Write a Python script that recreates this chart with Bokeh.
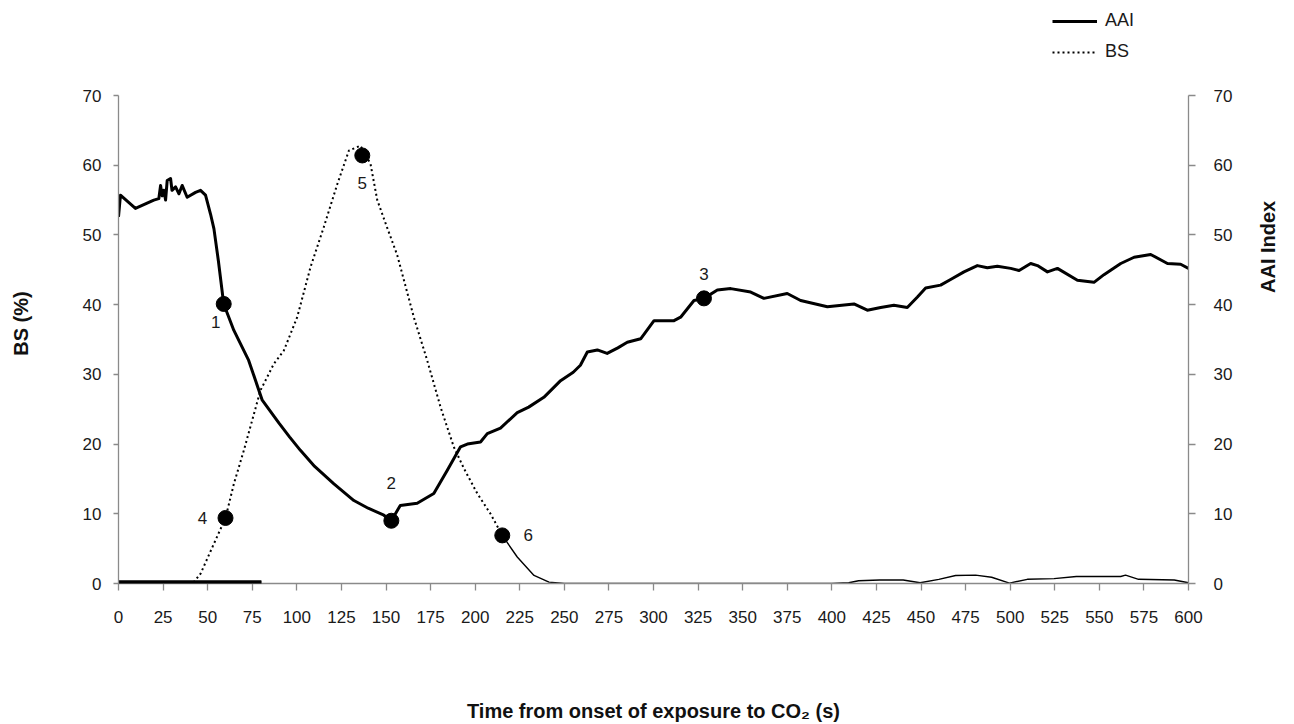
import math
from bokeh.plotting import figure
from bokeh.models import Range1d, LinearAxis, Legend, LegendItem, ColumnDataSource, FixedTicker
from bokeh.core.properties import value
from bokeh.embed import file_html
from bokeh.resources import INLINE

# ---------------- data ----------------
x_ticks = list(range(0, 601, 25))
y_ticks = list(range(0, 71, 10))
y_min, y_max = 0, 70

aai_t = [0, 1.1, 9.5, 19.8, 22.6, 23.6, 24.5, 25.4, 26.4, 27.3, 29.2, 30, 32, 33.9, 35.7, 38.5,
         43.2, 46, 48.8, 51.6, 53.5, 56, 59, 64.7, 73, 80.6, 90, 96, 102, 110, 120.8, 132, 140,
         148.8, 153, 158, 167.5, 176.8, 184.3, 191.8, 195.6, 203, 206.8, 214.2, 223.6, 230, 238.5,
         247.9, 255, 259, 262.9, 268.5, 274, 280, 285.3, 292.8, 300.3, 311.5, 315.2, 322.7, 328.3,
         335.8, 343.3, 354.5, 361.9, 375, 382.5, 397.5, 412.4, 419.9, 427.4, 434.8, 442.3, 448,
         452.6, 461, 466.6, 474.1, 481.6, 487.2, 492.8, 500.3, 505, 511.5, 515.3, 520.9, 526.5,
         537.7, 547, 552.6, 562, 569.5, 578.8, 588.2, 595.6, 600]
aai_v = [52.6, 55.7, 53.8, 55.0, 55.2, 57.1, 55.6, 56.4, 55.0, 57.8, 58.1, 56.4, 56.9, 55.9, 57.1, 55.4,
         56.1, 56.4, 55.7, 53.0, 50.9, 46.3, 40.1, 36.3, 32.0, 26.3, 23.0, 21.0, 19.1, 16.8, 14.3, 11.9, 10.8,
         9.8, 9.0, 11.2, 11.5, 12.9, 16.2, 19.6, 20.0, 20.3, 21.5, 22.3, 24.5, 25.3, 26.7,
         29.1, 30.3, 31.3, 33.2, 33.5, 33.0, 33.8, 34.6, 35.1, 37.7, 37.7, 38.2, 40.6, 40.9,
         42.1, 42.3, 41.8, 40.9, 41.6, 40.6, 39.7, 40.1, 39.2, 39.6, 39.9, 39.6, 41.1,
         42.4, 42.8, 43.6, 44.7, 45.6, 45.3, 45.5, 45.2, 44.9, 45.9, 45.6, 44.7, 45.2,
         43.5, 43.2, 44.3, 45.9, 46.8, 47.2, 45.9, 45.8, 45.2]

bs_t = [0, 42.2, 46, 53.5, 60, 64.7, 70.3, 79.6, 87.1, 92.7, 100.2, 107.7, 115.1, 122.7, 129.2,
        135.7, 141.3, 145.1, 150, 156.3, 165.6, 173.1, 180.6, 188, 193.7, 201.2, 208.6, 215.2,
        223.6, 233, 241.4, 250, 400, 409.5, 415, 426.8, 440, 449.5, 460, 469.4, 480.6, 489.6,
        499.6, 509.6, 524.6, 537.1, 562, 564.7, 572, 592, 600]
bs_v = [0, 0.2, 1.4, 5.7, 9.4, 14.3, 19.1, 27.7, 31.5, 33.4, 38.2, 45.4, 51.1, 57.3, 62.1,
        62.8, 60.2, 55.0, 51.5, 47.1, 38.2, 32.0, 25.3, 19.6, 16.5, 12.9, 10.0, 6.9,
        3.8, 1.15, 0.2, 0, 0, 0.1, 0.4, 0.5, 0.5, 0.1, 0.6, 1.15, 1.2, 0.9,
        0.05, 0.6, 0.7, 1.0, 1.0, 1.2, 0.6, 0.5, 0.1]
bs_dotted_until = 215.2

mark_t = [59, 153, 328.3, 60, 136.7, 215.2]
mark_v = [40.1, 9.0, 40.9, 9.4, 61.4, 6.9]
mark_labels = ["1", "2", "3", "4", "5", "6"]

exposure_start, exposure_end = 0, 80

# ---------------- layout / styling ----------------
FONT = "Liberation Sans"
AXIS_GREY = "#8a8a8a"
TXT = "#1a1a1a"
NBSP = "\u00a0"

W, H = 1294, 724
FRAME_TOP, AXIS_TOP, FRAME_BOTTOM = 2, 95, 583   # pixel rows: frame top, y=70 row, y=0 row
y_range_top = y_max * (FRAME_BOTTOM - FRAME_TOP) / (FRAME_BOTTOM - AXIS_TOP)

p = figure(width=W, height=H, output_backend="svg", toolbar_location=None,
           x_range=Range1d(0, 600), y_range=Range1d(y_min, y_range_top),
           min_border_left=118, min_border_right=106, min_border_top=FRAME_TOP,
           min_border_bottom=H - FRAME_BOTTOM)
p.grid.visible = False
p.outline_line_color = None
p.background_fill_color = "white"
p.border_fill_color = "white"

p.extra_y_ranges = {"aai": Range1d(y_min, y_range_top)}
right_axis = LinearAxis(y_range_name="aai", axis_label="AAI Index" + NBSP * 7)
p.add_layout(right_axis, "right")

p.xaxis.axis_label = "Time from onset of exposure to CO\u2082 (s)"
p.yaxis[0].axis_label = "BS (%)" + NBSP * 11

p.xaxis.ticker = FixedTicker(ticks=x_ticks)
for ax in p.yaxis:
    ax.ticker = FixedTicker(ticks=y_ticks)
    ax.bounds = (y_min, y_max)

for ax in list(p.xaxis) + list(p.yaxis):
    ax.axis_line_color = AXIS_GREY
    ax.axis_line_width = 1.3
    ax.major_tick_line_color = AXIS_GREY
    ax.major_tick_line_width = 1.3
    ax.major_tick_in = 0
    ax.minor_tick_line_color = None
    ax.major_label_text_font = FONT
    ax.major_label_text_font_size = "17px"
    ax.major_label_text_color = TXT
    ax.axis_label_text_font = FONT
    ax.axis_label_text_font_size = "20px"
    ax.axis_label_text_font_style = "bold"
    ax.axis_label_text_color = "#111111"

p.xaxis.major_tick_out = 7
p.xaxis.major_label_standoff = 20
p.xaxis.axis_label_standoff = 74

p.yaxis[0].major_tick_out = 5
p.yaxis[0].major_label_standoff = 12
p.yaxis[0].axis_label_standoff = 48

right_axis.major_tick_out = 7
right_axis.major_label_standoff = 18
right_axis.axis_label_standoff = 33
try:
    right_axis.axis_label_orientation = math.pi / 2   # read bottom-to-top, like the left title
    right_axis.axis_label_text_align = "center"
except Exception as e:
    print("no axis_label_orientation:", e)

# exposure bar along the x axis (axis line restricted to the exposure interval)
bar_axis = LinearAxis(bounds=(exposure_start, exposure_end), fixed_location=0,
                      axis_line_width=6, axis_line_color="black",
                      major_tick_line_color=None, minor_tick_line_color=None,
                      major_label_text_font_size="0px", major_label_text_alpha=0)
p.add_layout(bar_axis, "below")

# ---------------- glyphs ----------------
bs1_t = [t for t in bs_t if t <= bs_dotted_until]
bs1_v = [v for t, v in zip(bs_t, bs_v) if t <= bs_dotted_until]
bs2_t = [t for t in bs_t if t >= bs_dotted_until]
bs2_v = [v for t, v in zip(bs_t, bs_v) if t >= bs_dotted_until]

bs_r = p.line(bs1_t, bs1_v, line_color="black", line_width=2, line_dash="2 3")
p.line(bs2_t, bs2_v, line_color="black", line_width=1.4)

aai_r = p.line(aai_t, aai_v, line_color="black", line_width=3, y_range_name="aai", line_join="round")

p.line([exposure_start, exposure_end], [0, 0], line_color="black", line_width=6)

p.scatter(mark_t, mark_v, size=15, fill_color="black", line_color="black")

lab_src = ColumnDataSource(dict(x=mark_t, y=mark_v, text=mark_labels,
                                dx=[-8, 0, 0, -23, 0, 26], dy=[18, -38, -24, 0, 28, 0]))
p.text(x="x", y="y", text="text", x_offset="dx", y_offset="dy", source=lab_src,
       text_align="center", text_baseline="middle", text_font=value(FONT),
       text_font_size="17px", text_color=TXT)

legend = Legend(items=[LegendItem(label="AAI", renderers=[aai_r]),
                       LegendItem(label="BS", renderers=[bs_r])],
                location=(934, 521), orientation="vertical",
                glyph_width=45, glyph_height=20, label_standoff=8, spacing=10,
                padding=0, margin=0, border_line_color=None, background_fill_alpha=0,
                label_text_font=FONT, label_text_font_size="18px", label_text_color=TXT)
p.add_layout(legend, "center")

open("out.html", "w").write(file_html(p, INLINE))
